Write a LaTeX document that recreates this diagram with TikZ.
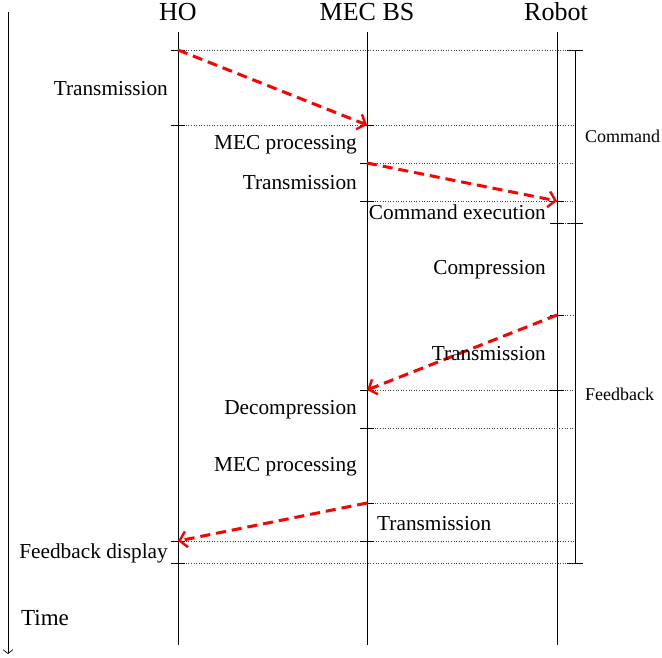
\documentclass[tikz,border=0pt]{standalone}
\usepackage{fontspec}
\setmainfont{Liberation Serif}
\usetikzlibrary{arrows.meta}
\begin{document}
\begin{tikzpicture}[x=1pt,y=-1pt,
  life/.style={line width=0.7pt},
  active/.style={line width=0.95pt},
  tick/.style={line width=0.7pt},
  guide/.style={dotted,line width=0.6pt,black!75},
  msg/.style={red,line width=3pt,dash pattern=on 10pt off 6pt,-{Straight Barb[length=7pt,width=16pt,line width=2.4pt]}},
  head/.style={font=\fontsize{26}{30}\selectfont,inner sep=0pt},
  lbl/.style={font=\fontsize{21.3}{25}\selectfont,inner sep=0pt},
  side/.style={font=\fontsize{18}{22}\selectfont,inner sep=0pt}]
\useasboundingbox (0,0) rectangle (662,658);
% headers
\node[head,anchor=base] (hho) at (178,21) {HO};
\node[head,anchor=base] (hmec) at (367,21) {MEC BS};
\node[head,anchor=base] (hrob) at (556,21) {Robot};
% time axis
\coordinate (t0) at (8,12);
\coordinate (t1) at (8,654);
\draw[line width=0.6pt,-{Straight Barb[length=4pt,width=10pt,line width=0.7pt]}] (t0) -- (t1);
% lifelines
\coordinate (ho0) at (178,32); \coordinate (ho1) at (178,645);
\coordinate (me0) at (367,32); \coordinate (me1) at (367,645);
\coordinate (ro0) at (557,32); \coordinate (ro1) at (557,645);
\draw[life] (ho0) -- (ho1);
\draw[life] (me0) -- (me1);
\draw[life] (ro0) -- (ro1);
% event coordinates
\coordinate (a1) at (178,50);  \coordinate (a2) at (367,125);
\coordinate (a3) at (178,125);
\coordinate (b1) at (367,163); \coordinate (b2) at (557,201);
\coordinate (b3) at (367,201);
\coordinate (c0) at (557,223);
\coordinate (c1) at (557,315); \coordinate (c2) at (367,390);
\coordinate (c3) at (557,390);
\coordinate (d1) at (367,428);
\coordinate (d2) at (367,503); \coordinate (d3) at (178,541);
\coordinate (d4) at (367,541);
\coordinate (e1) at (178,563);
% active segments
\draw[active] (a1) -- (a3);
\draw[active] (a2) -- (b3);
\draw[active] (c0) -- (c3);
\draw[active] (c2) -- (d4);
\draw[active] (d3) -- (e1);
% bracket
\coordinate (k0) at (575,50); \coordinate (k1) at (575,223); \coordinate (k2) at (575,563);
\draw[life] (k0) -- (k2);
\foreach \p in {k0,k1,k2}{\draw[tick] ([xshift=-8pt]\p) -- ([xshift=8pt]\p);}
% dotted guides
\draw[guide] (a1) -- (k0);
\draw[guide] (a3) -- (575,125);
\draw[guide] (b1) -- (575,163);
\draw[guide] (b3) -- (575,201);
\draw[guide] (c0) -- (k1);
\draw[guide] (c1) -- (575,315);
\draw[guide] (c2) -- (575,390);
\draw[guide] (d1) -- (575,428);
\draw[guide] (d2) -- (575,503);
\draw[guide] (d3) -- (575,541);
\draw[guide] (e1) -- (k2);
% ticks on lifelines
\foreach \p in {a1,a2,a3,b1,b2,b3,c0,c1,c2,c3,d1,d2,d3,d4,e1}{\draw[tick] ([xshift=-7pt]\p) -- ([xshift=7pt]\p);}
% messages
\draw[msg] (a1) -- (a2);
\draw[msg] (b1) -- (b2);
\draw[msg] (c1) -- (c2);
\draw[msg] (d2) -- (d3);
% labels
\node[lbl,anchor=base east] (l1) at (168,96) {Transmission};
\node[lbl,anchor=base east] (l2) at (357,150) {MEC processing};
\node[lbl,anchor=base east] (l3) at (357,190) {Transmission};
\node[lbl,anchor=base east] (l4) at (546,220) {Command execution};
\node[lbl,anchor=base east] (l5) at (546,274) {Compression};
\node[lbl,anchor=base east] (l6) at (546,360) {Transmission};
\node[lbl,anchor=base east] (l7) at (357,414) {Decompression};
\node[lbl,anchor=base east] (l8) at (357,471) {MEC processing};
\node[lbl,anchor=base west] (l9) at (377,530) {Transmission};
\node[lbl,anchor=base east] (l10) at (168,558) {Feedback display};
\node[font=\fontsize{23}{27}\selectfont,inner sep=0pt,anchor=base west] (time) at (21,625) {Time};
\node[side,anchor=base west] (cmd) at (585,143) {Command};
\node[side,anchor=base west] (fb) at (585,400) {Feedback};
\end{tikzpicture}
\end{document}
